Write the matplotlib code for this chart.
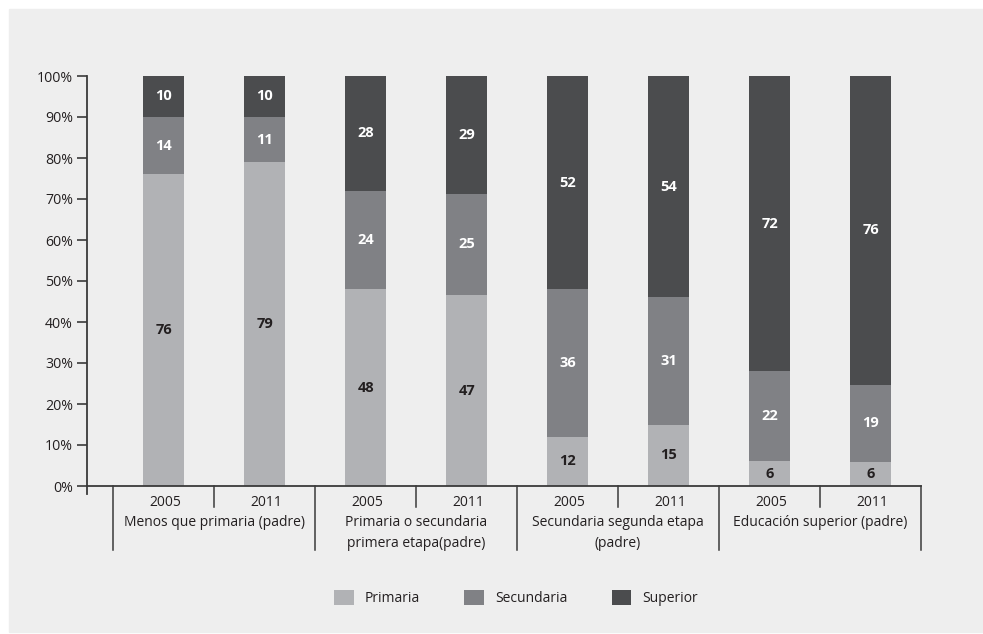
import matplotlib
matplotlib.use("Agg")
import matplotlib.pyplot as plt
from matplotlib.patches import Rectangle
from matplotlib.lines import Line2D
import numpy as np

plt.rcParams['font.family'] = ['Open Sans', 'DejaVu Sans']

years = ["2005", "2011", "2005", "2011", "2005", "2011", "2005", "2011"]
groups = [["Menos que primaria (padre)"],
          ["Primaria o secundaria", "primera etapa(padre)"],
          ["Secundaria segunda etapa", "(padre)"],
          ["Educación superior (padre)"]]
primaria = [76, 79, 48, 47, 12, 15, 6, 6]
secundaria = [14, 11, 24, 25, 36, 31, 22, 19]
superior = [10, 10, 28, 29, 52, 54, 72, 76]
series = ["Primaria", "Secundaria", "Superior"]
colors = ["#b1b2b5", "#808185", "#4b4c4e"]
label_colors = ["#231f20", "white", "white"]
ink = "#231f20"

vals = np.array([primaria, secundaria, superior], dtype=float)
heights = vals / vals.sum(axis=0) * 100

fig = plt.figure(figsize=(9.83, 6.34), dpi=100)
fig.patches.append(Rectangle((9 / 983, 2 / 634), 1 - 9 / 983, 1 - 11 / 634,
                             transform=fig.transFigure, color="#eeeeee", zorder=-10))
ax = fig.add_axes([87 / 983, (634 - 486) / 634, (921 - 87) / 983, 410 / 634])
ax.set_facecolor("none")

x = np.arange(len(years))
bottom = np.zeros(len(years))
for i in range(3):
    ax.bar(x, heights[i], 0.41, bottom=bottom, color=colors[i], label=series[i], zorder=2)
    for j in range(len(years)):
        ax.text(x[j], bottom[j] + heights[i][j] / 2, str(int(vals[i][j])), ha="center", va="center",
                color=label_colors[i], fontsize=10.5, fontweight="bold", zorder=3)
    bottom += heights[i]

ax.set_xlim(-0.76, 7.5)
ax.set_ylim(0, 100)
ax.set_yticks(np.arange(0, 101, 10))
ax.set_yticklabels([f"{v}%" for v in range(0, 101, 10)])
ax.tick_params(axis="y", length=7, width=1.2, color="#3a3a3a", labelsize=10.2, labelcolor=ink, pad=3)
ax.set_xticks([])
for s in ["top", "right"]:
    ax.spines[s].set_visible(False)
for s in ["left", "bottom"]:
    ax.spines[s].set_color("#3a3a3a")
    ax.spines[s].set_linewidth(1.3)

trans = ax.get_xaxis_transform()
ax.add_line(Line2D([-0.76, -0.76], [0, -0.02], transform=trans, color="#3a3a3a", lw=1.3, clip_on=False))
for d in [-0.5, 1.5, 3.5, 5.5, 7.5]:
    ax.add_line(Line2D([d, d], [0, -0.156], transform=trans, color="#3a3a3a", lw=1.1, clip_on=False))
for d in [0.5, 2.5, 4.5, 6.5]:
    ax.add_line(Line2D([d, d], [0, -0.051], transform=trans, color="#3a3a3a", lw=1.1, clip_on=False))

for j, yr in enumerate(years):
    ax.text(j + 0.02, -0.041, yr, transform=trans, ha="center", va="center", fontsize=10, color=ink)
for g, lines in enumerate(groups):
    for k, line in enumerate(lines):
        ax.text(2 * g + 0.5, -0.09 - k * 0.051, line, transform=trans, ha="center", va="center",
                fontsize=10, color=ink)

fig.legend(loc="center", bbox_to_anchor=(0.525, 0.057), ncol=3, frameon=False,
           fontsize=10, handlelength=1.4, handleheight=1.35, columnspacing=3.2,
           handletextpad=0.8, labelcolor=ink)

fig.savefig("out.png", dpi=100)
